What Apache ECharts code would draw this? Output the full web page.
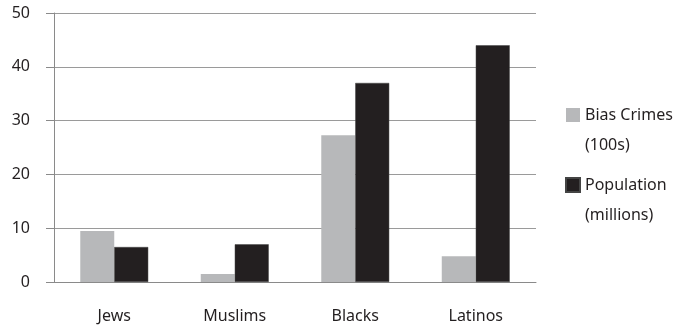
<!DOCTYPE html>
<html>
<head>
<meta charset="utf-8">
<script src="https://cdn.jsdelivr.net/npm/echarts@6/dist/echarts.min.js"></script>
<style>
  html, body { margin: 0; padding: 0; background: #fff; }
  #grafico { width: 682px; height: 327px; }
</style>
</head>
<body>
<div id="grafico"></div>
<script>
const categorias = ["Jews", "Muslims", "Blacks", "Latinos"];
const biasCrimes = [9.5, 1.5, 27.3, 4.8];
const populacao = [6.5, 7.0, 37.0, 44.0];
const nomesSeries = ["Bias Crimes\n(100s)", "Population\n(millions)"];

const corTexto = "#231f20";
const fonte = "Noto Sans";

var chartDom = document.getElementById("grafico");
var myChart = echarts.init(chartDom);

// quadrado no topo do icone, ponto solto embaixo so para alinhar com a 1a linha
const iconeLegenda = "path://M0,0L14,0L14,14L0,14Z M0,44L0,44";

var option = {
  animation: false,
  textStyle: { fontFamily: fonte },
  grid: { left: 54, right: 146, top: 13, bottom: 45 },
  legend: {
    orient: "vertical",
    left: 565,
    top: 100,
    padding: 0,
    itemWidth: 14,
    itemHeight: 44,
    itemGap: 10,
    icon: iconeLegenda,
    textStyle: {
      fontFamily: fonte,
      fontSize: 16,
      color: corTexto,
      lineHeight: 30,
    },
    data: nomesSeries,
  },
  xAxis: {
    type: "category",
    data: categorias,
    axisLine: { lineStyle: { color: "#8a8a8a" } },
    axisTick: { length: 8, lineStyle: { color: "#8a8a8a" } },
    axisLabel: { fontSize: 16, color: corTexto, margin: 26, fontFamily: fonte },
  },
  yAxis: {
    type: "value",
    min: 0,
    max: 50,
    interval: 10,
    axisLine: { show: true, lineStyle: { color: "#8a8a8a" } },
    axisTick: { show: true, length: 8, lineStyle: { color: "#8a8a8a" } },
    axisLabel: { fontSize: 16, color: corTexto, margin: 24, fontFamily: fonte },
    splitLine: { lineStyle: { color: "#9a9a9a" } },
  },
  series: [
    {
      name: nomesSeries[0],
      type: "bar",
      data: biasCrimes,
      itemStyle: { color: "#b7b8ba" },
      barGap: "0%",
      barCategoryGap: "43.6%",
    },
    {
      name: nomesSeries[1],
      type: "bar",
      data: populacao,
      itemStyle: { color: "#231f20", borderColor: "#444", borderWidth: 0.5 },
    },
  ],
};

option && myChart.setOption(option);
</script>
</body>
</html>
